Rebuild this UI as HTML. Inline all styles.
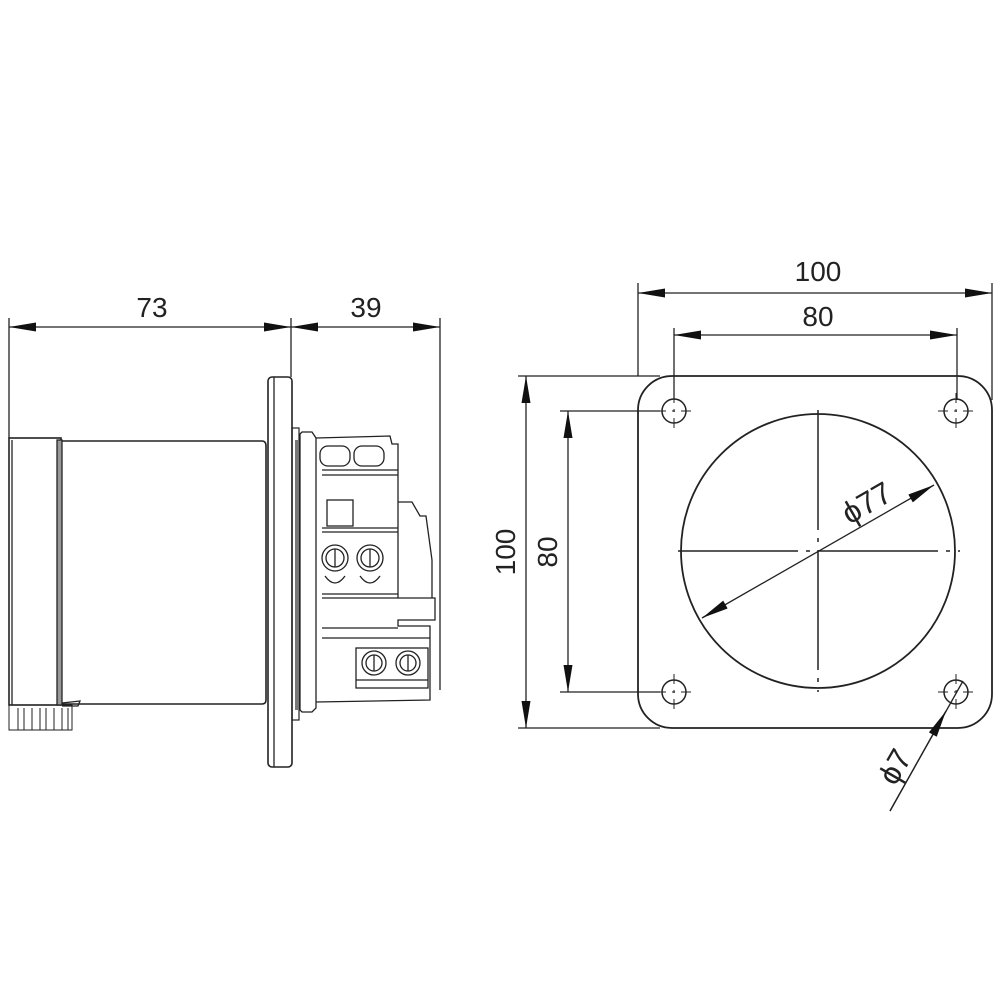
<!DOCTYPE html>
<html><head><meta charset="utf-8"><style>
html,body{margin:0;padding:0;background:#fff;}
svg{display:block}
text{font-family:"Liberation Sans",sans-serif;fill:#222;font-size:28px}
</style></head><body>
<svg width="1000" height="1000" viewBox="0 0 1000 1000" xmlns="http://www.w3.org/2000/svg">
<defs>
<marker id="a" viewBox="0 0 30 10" refX="30" refY="5" markerWidth="28" markerHeight="9" markerUnits="userSpaceOnUse" orient="auto-start-reverse"><path d="M0,0 L30,5 L0,10 Z" fill="#111"/></marker>
</defs>
<g stroke="#222" fill="none" stroke-width="1.3">
<line x1="9" y1="318" x2="9" y2="438"/>
<line x1="291" y1="318" x2="291" y2="377"/>
<line x1="440" y1="318" x2="440" y2="690"/>
<line x1="9" y1="327" x2="291" y2="327" marker-start="url(#a)" marker-end="url(#a)"/>
<line x1="291" y1="327" x2="440" y2="327" marker-start="url(#a)" marker-end="url(#a)"/>
<rect x="9" y="438" width="52" height="267" stroke-width="1.6"/>
<line x1="12" y1="440" x2="12" y2="705"/>
<rect x="57" y="440" width="5" height="265" fill="#999"/>
<path d="M62,441 L262,441 Q266,441 266,446 L266,700 Q266,704 262,704 L62,704" stroke-width="1.6"/>
<path d="M62,703 L80,701 L78,706 L62,706"/>
<g stroke-width="1">
<rect x="9" y="705" width="63" height="25"/>
<line x1="18" y1="708" x2="18" y2="730"/><line x1="24" y1="708" x2="24" y2="730"/>
<line x1="32" y1="708" x2="32" y2="730"/><line x1="40" y1="708" x2="40" y2="730"/>
<line x1="46" y1="708" x2="46" y2="730"/><line x1="54" y1="708" x2="54" y2="730"/>
<line x1="62" y1="708" x2="62" y2="730"/><line x1="68" y1="708" x2="68" y2="730"/>
</g>
<rect x="268" y="377" width="24" height="390" rx="4" stroke-width="1.6"/>
<line x1="274" y1="377" x2="274" y2="767"/>
<rect x="292" y="428" width="7" height="292" stroke-width="1.2"/>
<rect x="295" y="440" width="4" height="270" fill="#777" stroke="none"/>
<path d="M300,434 L302,432 L312,432 L316,438 L316,708 L312,712 L302,712 L300,710 Z"/>
<path d="M316,438 L390,436 L392,444 L398,444 L398,598 L435,598 L435,620 L398,620 L398,626 L430,626 L430,700 L316,702"/>
<line x1="322" y1="470" x2="398" y2="470"/><line x1="322" y1="475" x2="398" y2="475"/>
<rect x="320" y="446" width="30" height="20" rx="8"/><rect x="354" y="446" width="30" height="20" rx="8"/>
<rect x="327" y="500" width="26" height="26"/>
<line x1="322" y1="528" x2="398" y2="528"/><line x1="322" y1="532" x2="398" y2="532"/>
<circle cx="335" cy="558" r="13"/><circle cx="335" cy="558" r="9"/><line x1="335" y1="549" x2="335" y2="567"/>
<circle cx="370" cy="558" r="13"/><circle cx="370" cy="558" r="9"/><line x1="370" y1="549" x2="370" y2="567"/>
<path d="M325,576 Q335,590 345,576"/><path d="M360,576 Q370,590 380,576"/>
<line x1="322" y1="594" x2="398" y2="594"/><line x1="322" y1="598" x2="398" y2="598"/>
<path d="M398,502 L412,502 L420,516 L426,516 L432,560 L432,598"/>
<line x1="322" y1="628" x2="398" y2="628"/><line x1="322" y1="638" x2="430" y2="638"/>
<rect x="356" y="648" width="72" height="40"/>
<circle cx="374" cy="663" r="12"/><circle cx="374" cy="663" r="8"/><line x1="374" y1="655" x2="374" y2="671"/>
<circle cx="408" cy="663" r="12"/><circle cx="408" cy="663" r="8"/><line x1="408" y1="655" x2="408" y2="671"/>
<line x1="356" y1="680" x2="428" y2="680"/>

<line x1="638" y1="283" x2="638" y2="376"/>
<line x1="992" y1="283" x2="992" y2="400"/>
<line x1="638" y1="293" x2="992" y2="293" marker-start="url(#a)" marker-end="url(#a)"/>
<line x1="674" y1="328" x2="674" y2="400"/>
<line x1="957" y1="328" x2="957" y2="400"/>
<line x1="674" y1="335" x2="957" y2="335" marker-start="url(#a)" marker-end="url(#a)"/>
<line x1="518" y1="376" x2="660" y2="376"/>
<line x1="518" y1="728" x2="660" y2="728"/>
<line x1="526" y1="376" x2="526" y2="728" marker-start="url(#a)" marker-end="url(#a)"/>
<line x1="560" y1="411" x2="660" y2="411"/>
<line x1="560" y1="692" x2="660" y2="692"/>
<line x1="568" y1="411" x2="568" y2="692" marker-start="url(#a)" marker-end="url(#a)"/>
<rect x="638" y="376" width="354" height="352" rx="34" stroke-width="1.8"/>
<circle cx="818" cy="551" r="137" stroke-width="1.8"/>
<g stroke-width="1.5">
<line x1="818" y1="410" x2="818" y2="692" stroke-dasharray="120,8,4,8"/>
<line x1="678" y1="551" x2="960" y2="551" stroke-dasharray="120,8,4,8"/>
</g>
<g stroke-width="1.5">
<circle cx="674" cy="411" r="12"/><circle cx="956" cy="411" r="12"/>
<circle cx="674" cy="692" r="12"/><circle cx="956" cy="692" r="12"/>
</g>
<g stroke-width="1" stroke-dasharray="10,6,3,6">
<line x1="656" y1="411" x2="692" y2="411"/><line x1="674" y1="393" x2="674" y2="429"/>
<line x1="938" y1="411" x2="974" y2="411"/><line x1="956" y1="393" x2="956" y2="429"/>
<line x1="656" y1="692" x2="692" y2="692"/><line x1="674" y1="674" x2="674" y2="710"/>
<line x1="938" y1="692" x2="974" y2="692"/><line x1="956" y1="674" x2="956" y2="710"/>
</g>
<line x1="702" y1="618" x2="934" y2="485" marker-start="url(#a)" marker-end="url(#a)"/>
<line x1="963" y1="681" x2="890" y2="811"/>
<line x1="890" y1="811" x2="946" y2="711" marker-end="url(#a)"/>
</g>
<text x="152" y="317" text-anchor="middle">73</text>
<text x="366" y="317" text-anchor="middle">39</text>
<text x="818" y="281" text-anchor="middle">100</text>
<text x="818" y="326" text-anchor="middle">80</text>
<text transform="translate(515,552) rotate(-90)" text-anchor="middle">100</text>
<text transform="translate(557,552) rotate(-90)" text-anchor="middle">80</text>
<text transform="translate(872,512) rotate(-30)" text-anchor="middle" style="font-size:31px">ϕ77</text>
<text transform="translate(904,772) rotate(-60)" text-anchor="middle" style="font-size:31px">ϕ7</text>
</svg>
</body></html>
